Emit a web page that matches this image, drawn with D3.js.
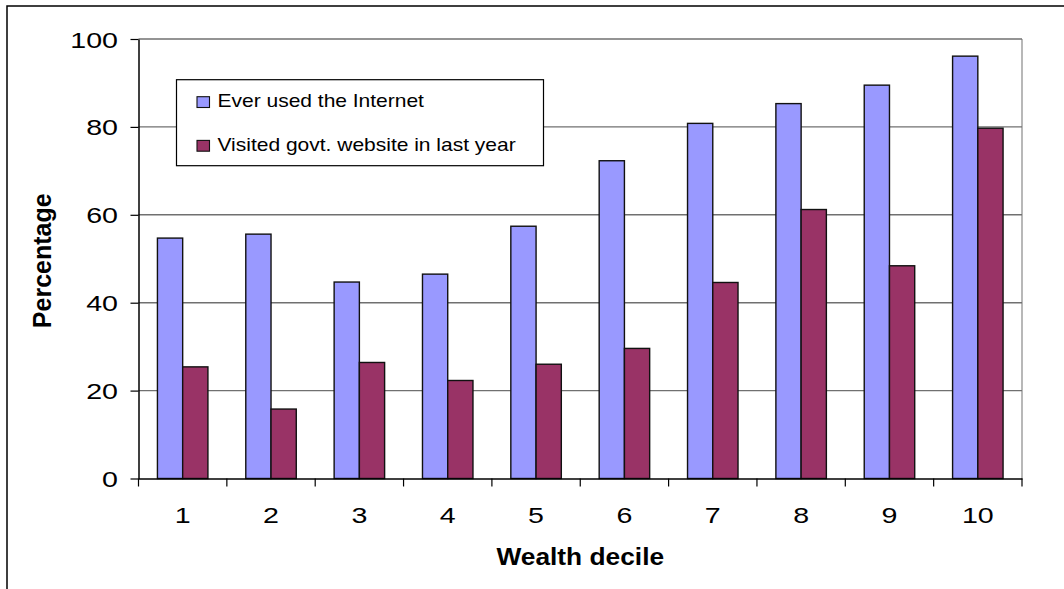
<!DOCTYPE html>
<html>
<head>
<meta charset="utf-8">
<script src="https://cdn.jsdelivr.net/npm/d3@7"></script>
<style>
  html, body { margin: 0; padding: 0; background: #fff; }
  svg { display: block; font-family: "Liberation Sans", Arial, sans-serif; }
</style>
</head>
<body>
<svg id="chart" width="1064" height="589"></svg>
<script>
// Share of people by wealth decile
const deciles = ["1", "2", "3", "4", "5", "6", "7", "8", "9", "10"];
const seriesNames = ["Ever used the Internet", "Visited govt. website in last year"];
const everUsedInternet = [54.7, 55.6, 44.7, 46.5, 57.4, 72.3, 80.8, 85.3, 89.5, 96.1];
const visitedGovtSite = [25.4, 15.8, 26.4, 22.3, 26.0, 29.6, 44.6, 61.2, 48.4, 79.7];
const yTickValues = [0, 20, 40, 60, 80, 100];
const colors = ["#9999FF", "#993366"];

const svg = d3.select("#chart");
const plot = { left: 138.5, right: 1022, top: 39, bottom: 478.5 };

// Outer chart frame
svg.append("rect")
  .attr("x", 7).attr("y", 6).attr("width", 1200).attr("height", 800)
  .attr("fill", "none").attr("stroke", "#000").attr("stroke-width", 1.5);

const x0 = d3.scaleBand().domain(deciles).range([plot.left, plot.right]).padding(0);
const x1 = d3.scaleBand().domain(seriesNames).range([0, x0.bandwidth()])
  .paddingInner(0).paddingOuter(0.75);
const y = d3.scaleLinear().domain([0, 100]).range([plot.bottom, plot.top]);

// Plot-area border (right side) and horizontal gridlines
svg.append("line")
  .attr("x1", plot.right).attr("x2", plot.right)
  .attr("y1", plot.top).attr("y2", plot.bottom)
  .attr("stroke", "#a0a0a0").attr("stroke-width", 1.5);

svg.append("g").selectAll("line")
  .data(yTickValues.filter(v => v > 0))
  .join("line")
  .attr("x1", plot.left).attr("x2", plot.right)
  .attr("y1", d => y(d)).attr("y2", d => y(d))
  .attr("stroke", "#707070").attr("stroke-width", 1.4);

// Bars
const rows = deciles.map((d, i) => ({ decile: d, values: [everUsedInternet[i], visitedGovtSite[i]] }));
const groups = svg.append("g").selectAll("g")
  .data(rows)
  .join("g")
  .attr("transform", d => `translate(${x0(d.decile)},0)`);

groups.selectAll("rect")
  .data(d => d.values.map((v, k) => ({ name: seriesNames[k], value: v, k })))
  .join("rect")
  .attr("x", d => x1(d.name))
  .attr("width", x1.bandwidth())
  .attr("y", d => y(d.value))
  .attr("height", d => y(0) - y(d.value))
  .attr("fill", d => colors[d.k])
  .attr("stroke", "#111")
  .attr("stroke-width", 1.4);

// Y axis
const yAxis = svg.append("g")
  .attr("transform", `translate(${plot.left},0)`)
  .call(d3.axisLeft(y).tickValues(yTickValues).tickSize(8).tickSizeOuter(0));
yAxis.select(".domain").attr("stroke", "#000").attr("stroke-width", 1.5);
yAxis.selectAll(".tick line").attr("stroke", "#000").attr("stroke-width", 1.2);
yAxis.selectAll(".tick text")
  .attr("x", 0).attr("dy", null).attr("y", 0)
  .attr("text-anchor", "end")
  .attr("fill", "#000")
  .style("font-size", "22px")
  .attr("transform", "translate(-20.5,8) scale(1.3,1)");

// X axis: labels at band centres, tick marks at band edges
const xAxis = svg.append("g")
  .attr("transform", `translate(0,${plot.bottom})`)
  .call(d3.axisBottom(x0).tickSize(0).tickSizeOuter(0));
xAxis.select(".domain").attr("stroke", "#000").attr("stroke-width", 1.5);
xAxis.selectAll(".tick text")
  .attr("y", 0).attr("dy", null)
  .attr("fill", "#000")
  .style("font-size", "22px")
  .attr("transform", "translate(0,44.5) scale(1.3,1)");

const edges = deciles.map(d => x0(d)).concat([x0.range()[1]]);
svg.append("g").selectAll("line")
  .data(edges)
  .join("line")
  .attr("x1", d => d).attr("x2", d => d)
  .attr("y1", plot.bottom).attr("y2", plot.bottom + 8)
  .attr("stroke", "#000").attr("stroke-width", 1.2);

// Axis titles
svg.append("text")
  .attr("transform", `translate(${(plot.left + plot.right) / 2},565) scale(1.12,1)`)
  .attr("text-anchor", "middle")
  .style("font-size", "23.5px").style("font-weight", "bold")
  .text("Wealth decile");

svg.append("text")
  .attr("transform", `translate(50.7,${(plot.top + plot.bottom) / 2 + 2}) rotate(-90)`)
  .attr("text-anchor", "middle")
  .style("font-size", "25px").style("font-weight", "bold")
  .text("Percentage");

// Legend
const legend = svg.append("g");
legend.append("rect")
  .attr("x", 176.5).attr("y", 79.7).attr("width", 367).attr("height", 86)
  .attr("fill", "#fff").attr("stroke", "#000").attr("stroke-width", 1.2);

const legendItems = legend.selectAll("g.item")
  .data(seriesNames)
  .join("g")
  .attr("class", "item")
  .attr("transform", (d, i) => `translate(0,${i * 43.7})`);

legendItems.append("rect")
  .attr("x", 197).attr("y", 96.7).attr("width", 12.5).attr("height", 10.8)
  .attr("fill", (d, i) => colors[i])
  .attr("stroke", "#111").attr("stroke-width", 1.1);

legendItems.append("text")
  .attr("transform", "translate(217.5,107.4) scale(1.2,1)")
  .style("font-size", "17.5px")
  .attr("fill", "#000")
  .text(d => d);
</script>
</body>
</html>
